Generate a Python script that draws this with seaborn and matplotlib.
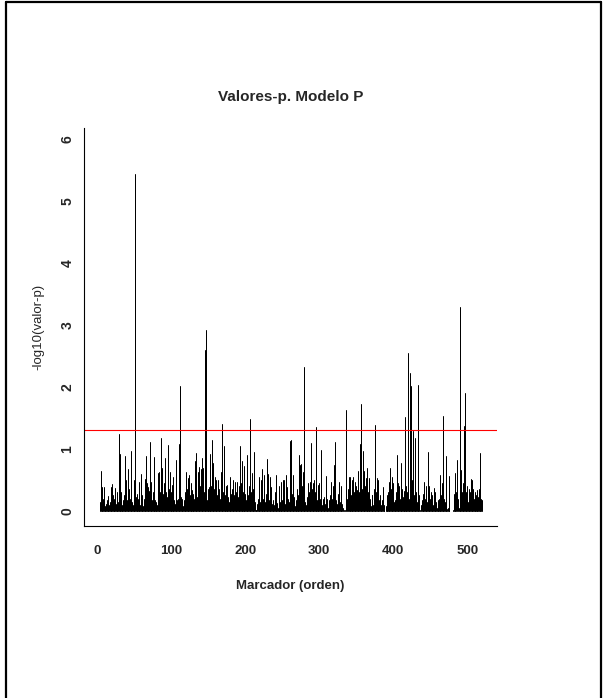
import numpy as np
import pandas as pd
import matplotlib
matplotlib.use("Agg")
import matplotlib.pyplot as plt
from matplotlib.lines import Line2D
import seaborn as sns

# -log10(p) per marker, markers 4..520 in order
neglog_p = [
    0.14, 0.65, 0.28, 0.39, 0.20, 0.38, 0.08, 0.04, 0.12, 0.18,
    0.24, 0.06, 0.10, 0.15, 0.38, 0.30, 0.43, 0.25, 0.18, 0.20,
    0.37, 0.12, 0.30, 0.27, 0.15, 1.24, 0.92, 0.20, 0.31, 0.10,
    0.08, 0.18, 0.25, 0.12, 0.89, 0.50, 0.18, 0.22, 0.68, 0.35,
    0.20, 0.96, 0.30, 0.15, 0.10, 0.50, 0.25, 5.43, 0.22, 0.28,
    0.12, 0.20, 0.47, 0.18, 0.10, 0.59, 0.25, 0.15, 0.08, 0.20,
    0.51, 0.30, 0.88, 0.45, 0.39, 0.20, 0.33, 1.11, 0.25, 0.46,
    0.18, 0.30, 0.87, 0.20, 0.18, 0.12, 0.15, 0.10, 0.61, 0.40,
    0.63, 0.30, 1.17, 0.55, 0.69, 0.28, 0.45, 0.20, 0.85, 0.30,
    0.22, 0.69, 1.06, 0.35, 0.63, 0.18, 0.30, 0.42, 0.25, 0.55,
    0.18, 0.12, 0.08, 0.82, 0.18, 0.20, 1.08, 0.15, 2.02, 0.22,
    0.20, 0.12, 0.08, 0.18, 0.15, 0.30, 0.63, 0.35, 0.53, 0.20,
    0.58, 0.25, 0.45, 0.30, 0.34, 0.15, 0.28, 0.20, 0.81, 0.94,
    0.35, 0.22, 0.63, 0.30, 0.71, 0.40, 0.68, 0.25, 0.85, 0.69,
    0.30, 0.20, 2.60, 2.92, 0.18, 0.23, 0.35, 0.39, 0.28, 0.92,
    0.40, 1.15, 0.55, 0.78, 0.35, 0.55, 0.30, 0.50, 0.25, 0.50,
    0.35, 0.28, 0.20, 0.63, 0.40, 1.40, 0.30, 1.05, 0.25, 0.18,
    0.40, 0.42, 0.30, 0.22, 0.15, 0.55, 0.20, 0.27, 0.35, 0.12,
    0.50, 0.25, 0.46, 0.30, 0.15, 0.47, 0.22, 0.40, 0.28, 1.04,
    0.45, 0.80, 0.35, 0.30, 0.73, 0.40, 0.28, 0.18, 0.35, 0.90,
    0.25, 0.40, 1.48, 0.54, 0.30, 0.61, 0.22, 0.35, 0.95, 0.15,
    0.01, 0.02, 0.12, 0.20, 0.08, 0.55, 0.15, 0.50, 0.25, 0.67,
    0.20, 0.58, 0.35, 0.15, 0.28, 0.84, 0.30, 0.60, 0.18, 0.55,
    0.25, 0.39, 0.12, 0.08, 0.18, 0.10, 0.30, 0.58, 0.20, 0.13,
    0.05, 0.22, 0.40, 0.15, 0.47, 0.30, 0.18, 0.50, 0.25, 0.50,
    0.12, 0.58, 0.30, 0.39, 0.20, 0.15, 0.35, 1.13, 1.14, 0.28,
    0.10, 0.58, 0.22, 0.08, 0.18, 0.12, 0.35, 0.20, 0.25, 0.90,
    0.74, 0.35, 0.76, 0.40, 0.63, 2.32, 0.30, 0.15, 0.10, 0.22,
    0.18, 0.45, 0.30, 0.47, 0.25, 1.09, 0.35, 0.45, 0.20, 0.50,
    0.30, 1.35, 0.25, 0.18, 0.42, 0.30, 0.45, 0.20, 0.98, 0.15,
    0.10, 0.19, 0.08, 0.23, 0.12, 0.56, 0.20, 0.12, 0.05, 0.18,
    0.10, 0.25, 0.47, 0.20, 0.15, 0.40, 0.74, 1.12, 0.30, 0.18,
    0.12, 0.28, 0.20, 0.47, 0.15, 0.40, 0.22, 0.11, 0.05, 0.02,
    0.00, 0.01, 1.63, 0.00, 0.20, 0.35, 0.55, 0.30, 0.54, 0.25,
    0.50, 0.20, 0.54, 0.30, 0.47, 0.15, 0.40, 0.34, 0.25, 0.65,
    0.30, 1.08, 0.45, 1.73, 0.35, 0.96, 0.20, 0.65, 0.40, 0.53,
    0.25, 0.69, 0.30, 0.53, 0.15, 0.20, 0.08, 0.25, 0.26, 0.10,
    0.35, 0.97, 1.39, 0.30, 0.53, 0.20, 0.50, 0.18, 0.25, 0.10,
    0.05, 0.18, 0.39, 0.10, 0.02, 0.00, 0.08, 0.25, 0.12, 0.30,
    0.47, 0.20, 0.70, 0.35, 0.55, 0.30, 0.45, 0.15, 0.18, 0.05,
    0.30, 0.90, 0.25, 0.45, 0.40, 0.20, 0.30, 0.78, 0.35, 0.22,
    0.33, 0.20, 1.51, 0.40, 0.25, 0.30, 2.55, 0.20, 0.10, 2.22,
    2.02, 0.50, 0.30, 1.29, 0.25, 0.20, 1.18, 0.30, 0.15, 2.03,
    0.69, 0.25, 0.02, 0.00, 0.10, 0.18, 0.25, 0.28, 0.46, 0.20,
    0.40, 0.30, 0.15, 0.95, 0.35, 0.40, 0.20, 0.30, 0.15, 0.25,
    0.10, 0.37, 0.20, 0.30, 0.15, 0.05, 0.10, 0.18, 0.20, 0.58,
    0.30, 0.25, 0.45, 1.53, 0.35, 0.20, 0.15, 0.88, 0.12, 0.03,
    0.05, 0.56, 0.02, 0.00, 0.00, 0.00, 0.00, 0.01, 0.28, 0.15,
    0.62, 0.30, 0.82, 0.20, 0.00, 0.05, 3.29, 0.25, 0.66, 0.30,
    0.15, 0.45, 1.37, 1.91, 0.30, 0.20, 0.40, 0.15, 0.35, 0.22,
    0.30, 0.51, 0.25, 0.50, 0.35, 0.20, 0.30, 0.15, 0.25, 0.18,
    0.34, 0.22, 0.36, 0.12, 0.93, 0.20, 0.18,
]
first_marker = 4
assert len(neglog_p) == 517, len(neglog_p)
markers = list(range(first_marker, first_marker + len(neglog_p)))

x_ticks = [0, 100, 200, 300, 400, 500]
y_ticks = [0, 1, 2, 3, 4, 5, 6]
threshold = -np.log10(0.05)

title = "Valores-p. Modelo P"
x_label = "Marcador (orden)"
y_label = "-log10(valor-p)"

sns.set_style("white")
plt.rcParams["font.family"] = ["Liberation Sans", "DejaVu Sans"]

# each marker becomes a vertical stem from 0 up to its value
stems = pd.DataFrame({
    "marker": np.repeat(markers, 2),
    "level": np.ravel(np.column_stack([np.zeros(len(neglog_p)), neglog_p])),
})

W, H = 605, 698
fig = plt.figure(figsize=(W / 100, H / 100), dpi=100)
ax = fig.add_axes([84.3 / W, 1 - 526 / H, (497 - 84.3) / W, (526 - 128.3) / H])

sns.lineplot(data=stems, x="marker", y="level", units="marker", estimator=None,
             sort=False, color="black", linewidth=0.72, ax=ax, legend=False)
ax.axhline(threshold, color="red", linewidth=0.8)

ax.set_xlim(-17.6, 540.4)
ax.set_ylim(-0.242, 6.17)
ax.set_xticks(x_ticks)
ax.set_yticks(y_ticks)
ax.set_xticklabels([str(t) for t in x_ticks], fontsize=9.5, fontweight="bold")
ax.set_yticklabels([str(t) for t in y_ticks], fontsize=10, fontweight="bold",
                   rotation=90, va="center")
ax.tick_params(axis="both", direction="out", length=5, width=0.7, color="#555555")
ax.tick_params(axis="x", pad=9)
ax.tick_params(axis="y", pad=2)
ax.set_xlabel(x_label, fontsize=9.5, fontweight="bold", labelpad=16)
ax.set_ylabel(y_label, fontsize=9.5, labelpad=12)
ax.set_title(title, fontsize=11, fontweight="bold", pad=20)
sns.despine(ax=ax)
for side in ("left", "bottom"):
    ax.spines[side].set_color("black")
    ax.spines[side].set_linewidth(0.8)

# page frame around the figure
frame = dict(color="black", linewidth=1.6, transform=fig.transFigure)
fig.add_artist(Line2D([6 / W, 601 / W], [1 - 1.5 / H, 1 - 1.5 / H], **frame))
fig.add_artist(Line2D([6 / W, 6 / W], [0, 1 - 1.5 / H], **frame))
fig.add_artist(Line2D([601 / W, 601 / W], [0, 1 - 1.5 / H], **frame))

fig.savefig("out.png", dpi=100, facecolor="white")
